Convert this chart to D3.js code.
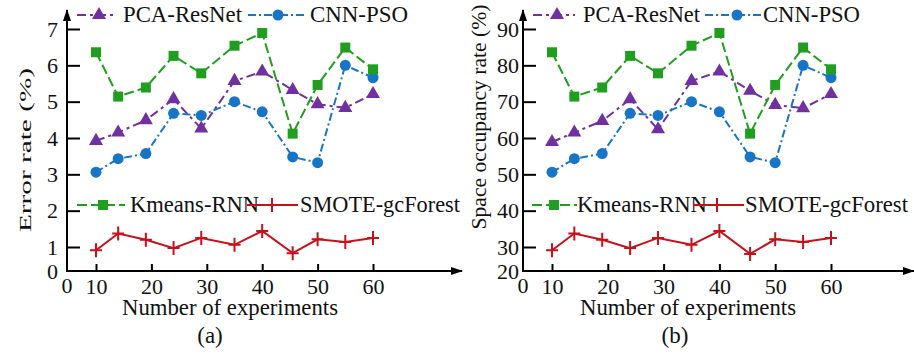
<!DOCTYPE html>
<html>
<head>
<meta charset="utf-8">
<script src="https://cdn.jsdelivr.net/npm/d3@7"></script>
<style>
  body { margin: 0; background: #fff; }
  text { font-family: 'Liberation Serif', 'Times New Roman', serif; fill: #111; }
</style>
</head>
<body>
<div id="chart"></div>
<script>
// experiment counts (x)
const experiments = [10, 14, 19, 24, 29, 35, 40, 45.5, 50, 55, 60]
const xTicks = [10, 20, 30, 40, 50, 60]

// (a) error rate (%)
const errPCA = [3.92, 4.15, 4.49, 5.07, 4.26, 5.57, 5.83, 5.32, 4.93, 4.83, 5.21]
const errCNN = [3.06, 3.43, 3.57, 4.68, 4.62, 5.0, 4.72, 3.48, 3.32, 6.0, 5.66]
const errKmeans = [6.36, 5.14, 5.39, 6.26, 5.78, 6.54, 6.89, 4.12, 5.46, 6.49, 5.89]
const errSmote = [0.91, 1.37, 1.2, 0.97, 1.25, 1.06, 1.44, 0.83, 1.21, 1.14, 1.25]
const errTicks = [1, 2, 3, 4, 5, 6, 7]

// (b) space occupancy rate (%)
const spacePCA = [58.9, 61.5, 64.7, 70.7, 62.4, 75.7, 78.3, 73.0, 69.1, 68.2, 72.1]
const spaceCNN = [50.6, 54.3, 55.7, 66.8, 66.2, 70.0, 67.2, 54.8, 53.2, 80.0, 76.6]
const spaceKmeans = [83.6, 71.4, 73.9, 82.6, 77.8, 85.4, 88.9, 61.2, 74.6, 84.9, 78.9]
const spaceSmote = [29.1, 33.7, 32.0, 29.7, 32.5, 30.6, 34.4, 28.1, 32.1, 31.4, 32.5]
const spaceTicks = [30, 40, 50, 60, 70, 80, 90]

const seriesNames = ['PCA-ResNet', 'CNN-PSO', 'Kmeans-RNN', 'SMOTE-gcForest']

const width = 914
const height = 354
const serif = "'Liberation Serif', 'Times New Roman', serif"

const styles = {
  'PCA-ResNet': { color: '#7030a0', dash: '9,4,3,4', marker: 'triangle' },
  'CNN-PSO': { color: '#1874c6', dash: '8,3,2,3', marker: 'circle' },
  'Kmeans-RNN': { color: '#1f9e1f', dash: '10,4', marker: 'square' },
  'SMOTE-gcForest': { color: '#c8101a', dash: null, marker: 'cross' }
}

const svg = d3.select('#chart')
  .append('svg')
  .attr('width', width)
  .attr('height', height)

const defs = svg.append('defs')
defs.append('marker')
  .attr('id', 'arrow')
  .attr('viewBox', '0 0 12 8')
  .attr('refX', 11)
  .attr('refY', 4)
  .attr('markerWidth', 12)
  .attr('markerHeight', 8)
  .attr('markerUnits', 'userSpaceOnUse')
  .attr('orient', 'auto')
  .append('path')
  .attr('d', 'M0,0 L12,4 L0,8 Z')
  .attr('fill', '#000')

function drawMarker(g, type, x, y, color) {
  if (type === 'circle') {
    g.append('circle').attr('cx', x).attr('cy', y).attr('r', 5.5).attr('fill', color)
  } else if (type === 'cross') {
    g.append('path')
      .attr('d', `M${x - 6},${y} L${x + 6},${y} M${x},${y - 7} L${x},${y + 7}`)
      .attr('stroke', color).attr('stroke-width', 2)
  } else {
    const sym = type === 'triangle' ? d3.symbolTriangle : d3.symbolSquare
    const size = type === 'triangle' ? 85 : 100
    g.append('path')
      .attr('d', d3.symbol().type(sym).size(size)())
      .attr('transform', `translate(${x},${y})`)
      .attr('fill', color)
  }
}

function drawPanel(p) {
  const g = svg.append('g')

  const xScale = d3.scaleLinear().domain([10, 60]).range([p.ox + 29, p.ox + 29 + p.xStep * 5])
  const yScale = d3.scaleLinear().domain([p.yTicks[0], p.yTicks[p.yTicks.length - 1]]).range([247, 29])

  // axes lines with arrows
  g.append('line')
    .attr('x1', p.ox).attr('y1', 271).attr('x2', p.xEnd).attr('y2', 271)
    .attr('stroke', '#000').attr('stroke-width', 2)
    .attr('marker-end', 'url(#arrow)')
  g.append('line')
    .attr('x1', p.ox).attr('y1', 272).attr('x2', p.ox).attr('y2', 10)
    .attr('stroke', '#000').attr('stroke-width', 2)
    .attr('marker-end', 'url(#arrow)')

  const xAxis = d3.axisBottom(xScale).tickValues(xTicks).tickFormat(d3.format('d'))
    .tickSize(-7).tickPadding(7)
  const xg = g.append('g').attr('transform', 'translate(0,271)').call(xAxis)
  const yAxis = d3.axisLeft(yScale).tickValues(p.yTicks).tickFormat(d3.format('d'))
    .tickSize(-13).tickPadding(p.yPad)
  const yg = g.append('g').attr('transform', `translate(${p.ox},0)`).call(yAxis)
  ;[xg, yg].forEach(a => {
    a.attr('font-family', serif).attr('font-size', 22)
    a.select('.domain').remove()
    a.selectAll('line').attr('stroke', '#000').attr('stroke-width', 2)
    a.selectAll('text').attr('font-size', 22).attr('font-family', serif).attr('fill', '#111')
  })

  // origin labels
  g.append('text').attr('x', p.ox).attr('y', 293).attr('text-anchor', 'middle')
    .attr('font-size', 22).text('0')
  g.append('text').attr('x', p.ox - p.yPad).attr('y', 279).attr('text-anchor', 'end')
    .attr('font-size', 22).text(p.yOrigin)

  // series
  const line = d3.line().x(d => xScale(d[0])).y(d => yScale(d[1]))
  p.series.forEach((vals, i) => {
    const st = styles[seriesNames[i]]
    const pts = experiments.map((x, j) => [x, vals[j]])
    g.append('path')
      .attr('d', line(pts))
      .attr('fill', 'none')
      .attr('stroke', st.color)
      .attr('stroke-width', 2)
      .attr('stroke-dasharray', st.dash)
    pts.forEach(d => drawMarker(g, st.marker, xScale(d[0]), yScale(d[1]), st.color))
  })

  // legend
  p.legend.forEach((lg, i) => {
    const st = styles[seriesNames[i]]
    g.append('line')
      .attr('x1', lg.x1).attr('x2', lg.x2).attr('y1', lg.y).attr('y2', lg.y)
      .attr('stroke', st.color).attr('stroke-width', 2)
      .attr('stroke-dasharray', st.dash)
    drawMarker(g, st.marker, lg.m, lg.y, st.color)
    g.append('text')
      .attr('x', lg.tx).attr('y', lg.y + 7)
      .attr('font-size', 23)
      .attr('textLength', lg.tw).attr('lengthAdjust', 'spacingAndGlyphs')
      .text(seriesNames[i])
  })

  // titles
  g.append('text')
    .attr('x', p.xTitleX).attr('y', 315).attr('text-anchor', 'middle')
    .attr('font-size', 23).attr('textLength', 216).attr('lengthAdjust', 'spacingAndGlyphs')
    .text('Number of experiments')
  g.append('text')
    .attr('x', p.subX).attr('y', 343).attr('text-anchor', 'middle')
    .attr('font-size', 23).text(p.sub)
  g.append('text')
    .attr('transform', `translate(${p.yTitleX},${p.yTitleY}) rotate(-90)`)
    .attr('text-anchor', 'middle')
    .attr('font-size', p.yTitleSize)
    .attr('textLength', p.yTitleLen).attr('lengthAdjust', 'spacingAndGlyphs')
    .text(p.yTitle)
}

drawPanel({
  ox: 67, xStep: 55.4, xEnd: 462, yPad: 9,
  yTicks: errTicks, yOrigin: '0',
  series: [errPCA, errCNN, errKmeans, errSmote],
  legend: [
    { x1: 77, x2: 117, m: 99, y: 15, tx: 123, tw: 119 },
    { x1: 248, x2: 304, m: 278, y: 15, tx: 310, tw: 98 },
    { x1: 77, x2: 125, m: 103, y: 205, tx: 130, tw: 129 },
    { x1: 247, x2: 298, m: 272, y: 205, tx: 300, tw: 160 }
  ],
  xTitleX: 230, sub: '(a)', subX: 210,
  yTitle: 'Error rate (%)', yTitleX: 31, yTitleY: 150, yTitleSize: 17, yTitleLen: 164
})

drawPanel({
  ox: 523, xStep: 55.8, xEnd: 914, yPad: 4,
  yTicks: spaceTicks, yOrigin: '20',
  series: [spacePCA, spaceCNN, spaceKmeans, spaceSmote],
  legend: [
    { x1: 533, x2: 575, m: 557, y: 15, tx: 583, tw: 117 },
    { x1: 705, x2: 761, m: 737, y: 15, tx: 763, tw: 97 },
    { x1: 532, x2: 577, m: 554, y: 205, tx: 577, tw: 130 },
    { x1: 693, x2: 744, m: 717, y: 205, tx: 745, tw: 163 }
  ],
  xTitleX: 688, sub: '(b)', subX: 675,
  yTitle: 'Space occupancy rate (%)', yTitleX: 486, yTitleY: 117, yTitleSize: 20, yTitleLen: 225
})
</script>
</body>
</html>
